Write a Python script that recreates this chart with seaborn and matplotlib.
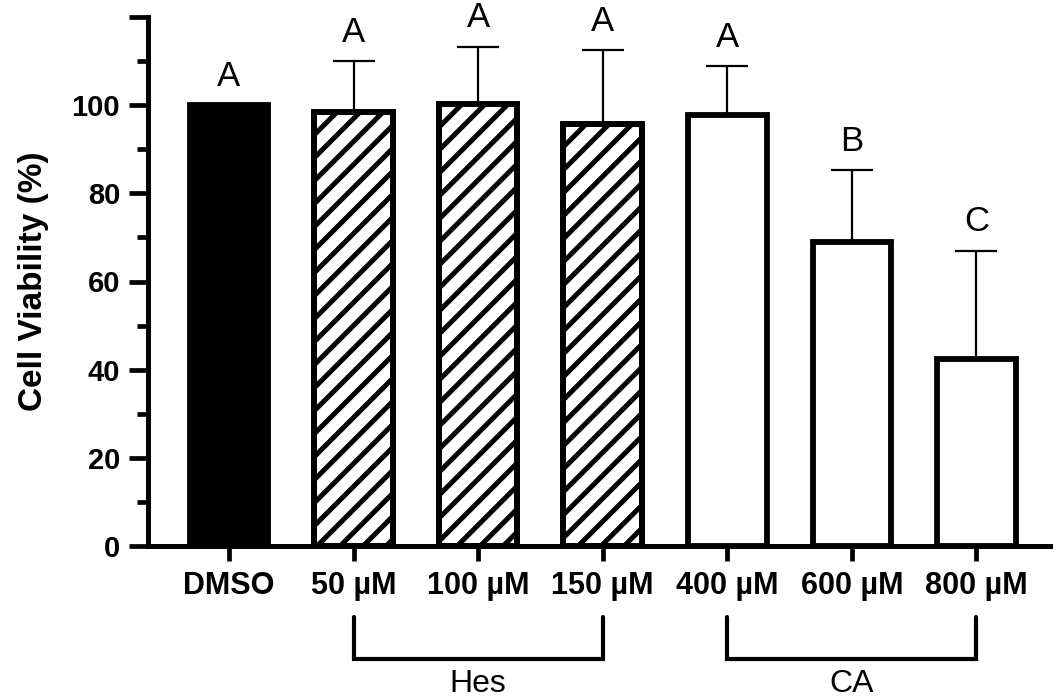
import matplotlib
matplotlib.use("Agg")
import matplotlib.pyplot as plt
import matplotlib.transforms as mtransforms
from matplotlib.lines import Line2D
import seaborn as sns
import numpy as np
import pandas as pd

# ---- data ----
categories = ["DMSO", "50 µM", "100 µM", "150 µM", "400 µM", "600 µM", "800 µM"]
viability = [100.0, 98.5, 100.2, 95.8, 97.8, 69.0, 42.5]
sd_upper = [0.0, 11.5, 13.1, 16.7, 11.0, 16.2, 24.5]
letters = ["A", "A", "A", "A", "A", "B", "C"]
groups = ["control", "Hes", "Hes", "Hes", "CA", "CA", "CA"]
group_labels = ["Hes", "CA"]
y_ticks = [0, 20, 40, 60, 80, 100, 120]
y_tick_labels = ["0", "20", "40", "60", "80", "100", ""]

sns.set_theme(style="ticks")
plt.rcParams["font.family"] = ["Liberation Sans", "DejaVu Sans"]
plt.rcParams["text.color"] = "black"
plt.rcParams["axes.labelcolor"] = "black"

df = pd.DataFrame({"cond": categories, "viab": viability})

fig = plt.figure(figsize=(10.57, 7.0), dpi=100)
ax = fig.add_axes([148 / 1057, 1 - 546 / 700, (1050 - 148) / 1057, (546 - 17) / 700])

sns.barplot(data=df, x="cond", y="viab", hue="cond", order=categories,
            hue_order=categories, palette=["white"] * len(categories),
            legend=False, width=0.63, errorbar=None, ax=ax, zorder=3)

ax.set_ylim(0, 120)
ax.set_xlim(-0.65, 6.59)

styles = {"control": "black", "Hes": "white", "CA": "white"}
hatched = []
for patch, g in zip(ax.patches, groups):
    patch.set_facecolor(styles[g])
    patch.set_edgecolor("black")
    patch.set_linewidth(4.2)
    patch.set_zorder(3)
    if g == "Hes":
        hatched.append(patch)

# diagonal hatching (sparser and bolder than the built-in hatch), clipped to bars
fig.canvas.draw()
spacing = 23.0  # pixels, horizontal
for patch in list(hatched):
    bb = patch.get_window_extent()
    h = bb.height
    starts = np.arange(bb.x0 - h, bb.x1 + spacing, spacing)
    for s in starts:
        ln = Line2D([s, s + h], [bb.y0, bb.y1], transform=mtransforms.IdentityTransform(),
                    color="black", lw=3.6, zorder=3.5, solid_capstyle="butt")
        ax.add_artist(ln)
        ln.set_clip_path(patch.get_path(), patch.get_transform())
    edge = patch.__class__(patch.get_xy(), patch.get_width(), patch.get_height(),
                           facecolor="none", edgecolor="black", lw=4.2, zorder=3.6)
    ax.add_patch(edge)

xpos = np.arange(len(categories))
ax.errorbar(xpos, viability, yerr=[np.zeros(len(sd_upper)), sd_upper],
            fmt="none", ecolor="black", elinewidth=1.6, capsize=15,
            capthick=1.6, zorder=2)

for x, v, s, lt in zip(xpos, viability, sd_upper, letters):
    ax.annotate(lt, xy=(x, v + s), xytext=(0, 9), textcoords="offset points",
                ha="center", va="bottom", fontsize=25, color="black")

ax.set_yticks(y_ticks)
ax.set_yticklabels(y_tick_labels, fontsize=21, fontweight="bold")
ax.set_yticks(np.arange(10, 120, 20), minor=True)
ax.set_xticks(xpos)
ax.set_xticklabels(categories, fontsize=22, fontweight="bold")
ax.set_xlabel("")
ax.set_ylabel("Cell Viability (%)", fontsize=24, fontweight="bold", labelpad=16,
              color="black")

for side in ["top", "right"]:
    ax.spines[side].set_visible(False)
for side in ["left", "bottom"]:
    ax.spines[side].set_linewidth(3.6)
    ax.spines[side].set_color("black")
ax.tick_params(axis="y", which="major", length=14, width=3.4, pad=6, colors="black")
ax.tick_params(axis="y", which="minor", length=8, width=3.4, colors="black")
ax.tick_params(axis="x", which="major", length=11, width=3.4, pad=7, colors="black")

trans = mtransforms.blended_transform_factory(ax.transData, fig.transFigure)
y_top, y_bot, y_txt = 1 - 617 / 700, 1 - 659 / 700, 1 - 684 / 700
for gl in group_labels:
    idx = [i for i, g in enumerate(groups) if g == gl]
    x0, x1 = xpos[idx[0]], xpos[idx[-1]]
    ax.plot([x0, x0, x1, x1], [y_top, y_bot, y_bot, y_top], transform=trans,
            color="black", lw=3.0, clip_on=False, solid_joinstyle="miter")
    ax.text((x0 + x1) / 2, y_txt, gl, transform=trans, ha="center", va="center",
            fontsize=23, color="black")

fig.savefig("out.png", dpi=100)
